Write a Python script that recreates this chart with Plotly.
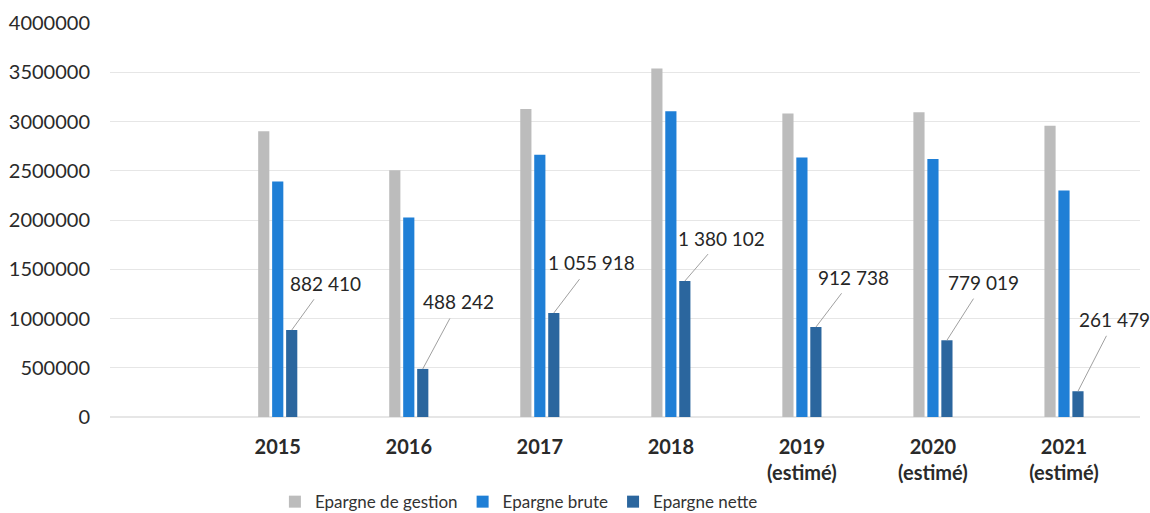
import plotly.graph_objects as go

# Savings by year (euros)
years = ["2015", "2016", "2017", "2018", "2019<br>(estimé)", "2020<br>(estimé)", "2021<br>(estimé)"]
epargne_gestion = [2900000, 2505000, 3127000, 3537000, 3080000, 3093000, 2957000]
epargne_brute = [2392000, 2025000, 2663000, 3103000, 2635000, 2620000, 2300000]
epargne_nette = [882410, 488242, 1055918, 1380102, 912738, 779019, 261479]
nette_labels = ["882 410", "488 242", "1 055 918", "1 380 102", "912 738", "779 019", "261 479"]

# offsets (px) of each value label relative to the top of its bar
label_dx = [34, 36, 38, 37, 38, 37, 37]
label_dy = [-47, -67, -50, -43, -50, -58, -72]

GRAY = "#bcbcbc"
BLUE = "#1f7fd6"
DARK = "#2b669e"
FONT = "Lato, Open Sans, sans-serif"

x_idx = list(range(len(years)))

fig = go.Figure()
fig.add_trace(go.Bar(name="Epargne de gestion", x=x_idx, y=epargne_gestion,
                     marker=dict(color=GRAY, line=dict(width=0))))
fig.add_trace(go.Bar(name="Epargne brute", x=x_idx, y=epargne_brute,
                     marker=dict(color=BLUE, line=dict(width=0))))
fig.add_trace(go.Bar(name="Epargne nette", x=x_idx, y=epargne_nette,
                     marker=dict(color=DARK, line=dict(width=0))))

bargap = 0.68
bargroupgap = 0.2
slot = (1 - bargap) / 3
net_offset = slot  # third bar sits one slot right of the group centre

for i, (v, t) in enumerate(zip(epargne_nette, nette_labels)):
    fig.add_annotation(
        x=i + net_offset, y=v, xref="x", yref="y",
        text=t, showarrow=True, arrowhead=0, arrowwidth=1,
        arrowcolor="#a0a0a0", ax=label_dx[i], ay=label_dy[i],
        standoff=0, startstandoff=4,
        font=dict(family=FONT, size=19, color="#262626"),
    )

fig.update_layout(
    width=1150, height=513,
    margin=dict(l=110, r=10, t=23, b=96, autoexpand=False),
    paper_bgcolor="white", plot_bgcolor="white",
    barmode="group", bargap=bargap, bargroupgap=bargroupgap,
    font=dict(family=FONT, color="#333333"),
    showlegend=True,
    legend=dict(orientation="h", x=0.397, xanchor="center", y=-0.216, yanchor="middle",
                font=dict(size=17, color="#333333"),
                itemwidth=30, tracegroupgap=0,
                traceorder="normal"),
)
fig.update_xaxes(
    tickmode="array", tickvals=x_idx, ticktext=years,
    range=[-1.28, 6.58], showgrid=False, showline=False, zeroline=False,
    tickfont=dict(size=20, color="#2a2a2a", family=FONT, weight="bold"),
    ticks="", ticklabelstandoff=16, automargin=False,
)
fig.update_yaxes(
    range=[0, 4000000], dtick=500000, tickformat="d",
    showgrid=True, gridcolor="#e6e6e6", gridwidth=1,
    zeroline=True, zerolinecolor="#e6e6e6", showline=False,
    tickfont=dict(size=20, color="#2a2a2a", family=FONT), ticklabelstandoff=19,
    automargin=False,
)

fig.write_html("out.html")
